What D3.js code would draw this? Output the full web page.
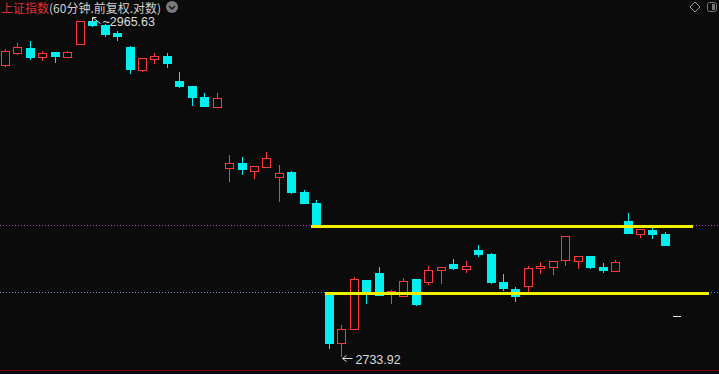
<!DOCTYPE html>
<html>
<head>
<meta charset="utf-8">
<script src="https://cdn.jsdelivr.net/npm/d3@7"></script>
<style>
  html, body { margin: 0; padding: 0; background: #0b0b0b; }
  svg { display: block; }
</style>
</head>
<body>
<svg id="chart"></svg>
<script>
// 60 minute bars
let opens  = [2932.88, 2941.39, 2944.94, 2938.55, 2942.10, 2938.90, 2947.79, 2964.20, 2961.34, 2955.27,
              2945.65, 2929.34, 2937.13, 2939.26, 2921.58, 2918.05, 2910.32, 2903.30, 2861.06, 2864.31,
              2858.99, 2861.54, 2854.64, 2858.09, 2844.32, 2836.78, 2775.81, 2742.50, 2751.78, 2784.53,
              2789.24, 2775.14, 2773.80, 2785.20, 2783.19, 2791.26, 2795.31, 2792.27, 2804.77, 2802.06,
              2783.19, 2778.49, 2780.50, 2792.95, 2793.62, 2798.01, 2797.33, 2800.71, 2793.62, 2790.92,
              2824.48, 2815.63, 2818.69, 2815.63]
let highs  = [2944.23, 2948.50, 2949.92, 2942.81, 2942.45, 2942.81, 2964.20, 2965.63, 2962.06, 2956.70,
              2946.36, 2937.84, 2941.39, 2941.39, 2927.93, 2918.05, 2913.12, 2913.12, 2869.84, 2868.45,
              2862.23, 2871.92, 2862.92, 2858.78, 2845.69, 2838.83, 2776.48, 2754.44, 2786.55, 2784.53,
              2793.28, 2777.82, 2785.87, 2785.20, 2793.96, 2793.28, 2798.69, 2797.33, 2808.16, 2802.74,
              2788.57, 2779.83, 2793.96, 2796.66, 2797.33, 2814.27, 2800.71, 2800.71, 2796.32, 2798.01,
              2829.94, 2819.03, 2820.73, 2817.33]
let lows   = [2932.17, 2940.68, 2937.13, 2936.42, 2935.00, 2938.55, 2947.79, 2960.62, 2953.48, 2950.63,
              2927.23, 2928.63, 2934.29, 2931.46, 2917.35, 2904.70, 2904.00, 2903.30, 2851.88, 2856.71,
              2853.95, 2861.54, 2838.15, 2843.63, 2836.78, 2821.07, 2739.19, 2733.92, 2751.78, 2769.12,
              2774.47, 2769.12, 2773.80, 2767.78, 2781.85, 2782.52, 2791.94, 2789.92, 2800.71, 2782.52,
              2777.82, 2770.45, 2776.48, 2789.24, 2788.57, 2794.63, 2792.61, 2792.61, 2790.25, 2790.59,
              2816.31, 2813.59, 2813.25, 2808.16]
let closes = [2942.81, 2945.65, 2938.55, 2941.39, 2939.61, 2942.10, 2964.20, 2961.34, 2954.91, 2953.84,
              2930.05, 2937.84, 2939.26, 2934.29, 2918.05, 2910.32, 2904.00, 2909.61, 2864.51, 2860.16,
              2862.23, 2867.56, 2857.40, 2844.32, 2836.78, 2821.75, 2742.50, 2751.78, 2785.20, 2775.81,
              2774.47, 2777.15, 2783.86, 2768.45, 2791.26, 2793.08, 2792.95, 2793.96, 2802.06, 2783.19,
              2779.16, 2773.80, 2792.61, 2793.96, 2797.33, 2814.27, 2800.71, 2793.28, 2791.60, 2796.99,
              2816.31, 2819.03, 2815.97, 2808.16]

// drawn level lines (price, start bar, end bar)
let levelPrices = [2821.07, 2775.81]
let levelStart  = [24.58, 25.70]
let levelEnd    = [55.26, 56.55]
let levelDots   = ['#b040b0', '#7088f0']

let highLabel = '2965.63'
let lowLabel  = '2733.92'
let lastMark  = 2760.44

let width = 719
let height = 374

let svg = d3.select('#chart')
svg.attr('width', width).attr('height', height)

let bars = opens.map((o, i) => ({ i: i, o: o, h: highs[i], l: lows[i], c: closes[i] }))

//placing bars horizontally
let xScale = d3.scaleLinear().domain([0, 53]).range([5, 664.85])
//log price axis
let yScale = d3.scaleLog().domain([2733.92, 2965.63]).range([356, 19])

let upColor = '#ff3a3a'
let downColor = '#00f0f0'
let bg = '#0b0b0b'

let px = v => Math.round(v)

svg.append('rect').attr('width', width).attr('height', height).attr('fill', bg)

// dotted alert lines across the chart
levelPrices.forEach((p, k) => {
    svg.append('line')
        .attr('x1', 0).attr('x2', width)
        .attr('y1', px(yScale(p)) - 0.5).attr('y2', px(yScale(p)) - 0.5)
        .attr('stroke', levelDots[k])
        .attr('stroke-width', 1)
        .attr('stroke-dasharray', '1,2')
        .attr('shape-rendering', 'crispEdges')
})

// bottom border
svg.append('line')
    .attr('x1', 0).attr('x2', width)
    .attr('y1', 370.5).attr('y2', 370.5)
    .attr('stroke', '#7a0a0a')
    .attr('shape-rendering', 'crispEdges')

let g = svg.selectAll('g.bar')
    .data(bars)
    .enter()
    .append('g')
    .attr('class', 'bar')
    .attr('shape-rendering', 'crispEdges')

g.append('line')
    .attr('x1', d => px(xScale(d.i)) + 0.5)
    .attr('x2', d => px(xScale(d.i)) + 0.5)
    .attr('y1', d => px(yScale(d.h)))
    .attr('y2', d => px(yScale(d.l)) + 1)
    .attr('stroke', d => d.c >= d.o ? upColor : downColor)

// down bars: filled cyan
g.filter(d => d.c < d.o).append('rect')
    .attr('x', d => px(xScale(d.i)) - 4)
    .attr('width', 9)
    .attr('y', d => px(yScale(d.o)))
    .attr('height', d => Math.max(2, px(yScale(d.c)) - px(yScale(d.o)) + 1))
    .attr('fill', downColor)

// up bars: hollow red
g.filter(d => d.c >= d.o).append('rect')
    .attr('x', d => px(xScale(d.i)) - 3.5)
    .attr('width', 8)
    .attr('y', d => px(yScale(d.c)) + 0.5)
    .attr('height', d => Math.max(1, px(yScale(d.o)) - px(yScale(d.c))))
    .attr('fill', bg)
    .attr('stroke', upColor)

// yellow level segments
levelPrices.forEach((p, k) => {
    svg.append('line')
        .attr('x1', xScale(levelStart[k])).attr('x2', xScale(levelEnd[k]))
        .attr('y1', px(yScale(p)) + 0.5).attr('y2', px(yScale(p)) + 0.5)
        .attr('stroke', '#f2f200')
        .attr('stroke-width', 3)
        .attr('shape-rendering', 'crispEdges')
})

// last price marker
svg.append('line')
    .attr('x1', px(xScale(54)) - 4).attr('x2', px(xScale(54)) + 4)
    .attr('y1', px(yScale(lastMark)) + 0.5).attr('y2', px(yScale(lastMark)) + 0.5)
    .attr('stroke', '#e0e0e0')
    .attr('shape-rendering', 'crispEdges')

// high / low labels
let hx = px(xScale(7)) + 0.5, hy = px(yScale(+highLabel)) - 1.5
svg.append('path')
    .attr('d', `M${hx},${hy} l8,6 M${hx},${hy} l0,4 M${hx},${hy} l4,0`)
    .attr('stroke', '#dcdcdc').attr('fill', 'none')
svg.append('text')
    .attr('x', hx + 10).attr('y', hy + 8)
    .attr('fill', '#dcdcdc')
    .attr('font-family', 'Liberation Sans, Arial, sans-serif')
    .attr('font-size', 12.5)
    .text('~' + highLabel)

let lx = px(xScale(27)) + 1.5, ly = px(yScale(+lowLabel)) + 2.5
svg.append('path')
    .attr('d', `M${lx},${ly} l10,0 M${lx},${ly} l4,-3 M${lx},${ly} l4,3`)
    .attr('stroke', '#dcdcdc').attr('fill', 'none')
svg.append('text')
    .attr('x', lx + 13).attr('y', ly + 5)
    .attr('fill', '#dcdcdc')
    .attr('font-family', 'Liberation Sans, Arial, sans-serif')
    .attr('font-size', 12.5)
    .text(lowLabel)

// title
let title = svg.append('text')
    .attr('x', 1).attr('y', 13)
    .attr('font-family', 'Noto Sans CJK SC, sans-serif')
    .attr('font-size', 12)
title.append('tspan').attr('fill', '#e03030').text('上证指数')
title.append('tspan').attr('fill', '#d0d0d0').text('(60分钟.前复权.对数)')

svg.append('circle').attr('cx', 172).attr('cy', 7).attr('r', 6).attr('fill', '#7a7a7a')
svg.append('path').attr('d', 'M169,6 l3,3 l3,-3').attr('stroke', '#1a1a1a').attr('stroke-width', 1.5).attr('fill', 'none')

// top right icons
svg.append('path').attr('d', 'M695,2 l5,5 l-5,5 l-5,-5 z').attr('stroke', '#9a9a9a').attr('fill', 'none')
svg.append('rect').attr('x', 707.5).attr('y', 2.5).attr('width', 9).attr('height', 9).attr('rx', 2)
    .attr('stroke', '#7a7a7a').attr('fill', 'none')
svg.append('rect').attr('x', 712).attr('y', 4).attr('width', 3).attr('height', 6).attr('fill', '#7a7a7a')
</script>
</body>
</html>
